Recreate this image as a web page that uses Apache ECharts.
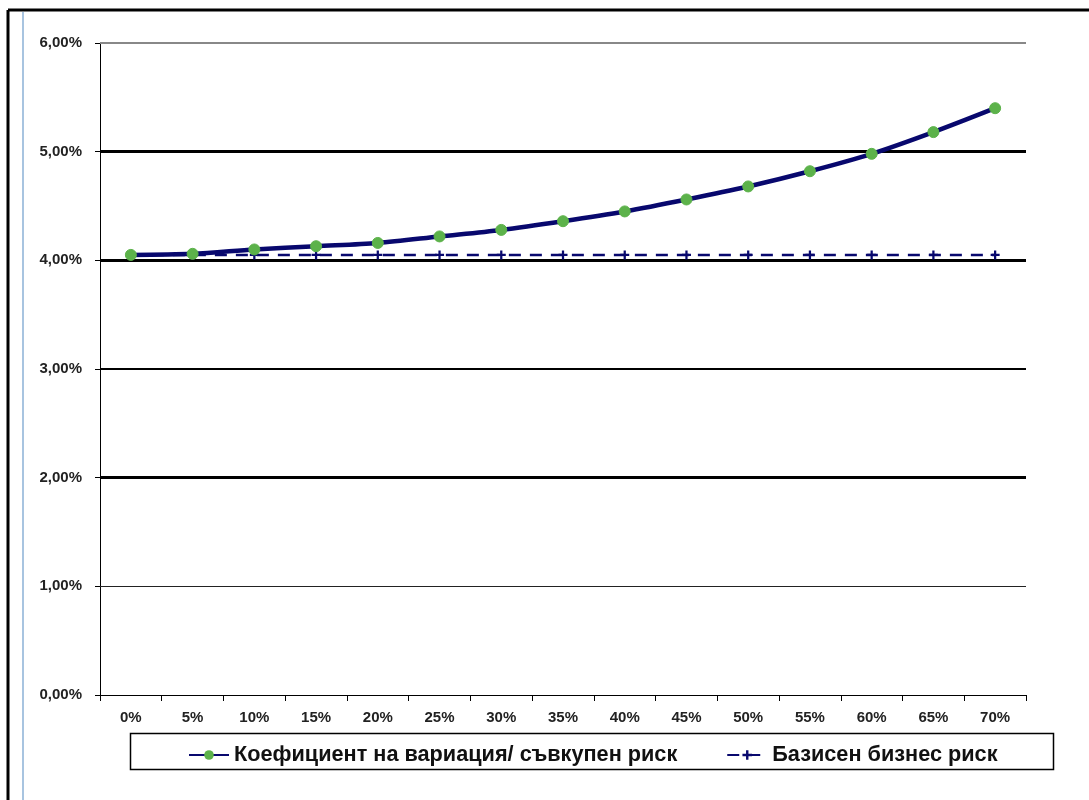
<!DOCTYPE html>
<html><head><meta charset="utf-8">
<script src="https://cdn.jsdelivr.net/npm/echarts@6/dist/echarts.min.js"></script>
<style>html,body{margin:0;padding:0;background:#fff}#c{width:1089px;height:800px}</style>
</head><body><div id="c"></div>
<script>
const categories = ['0%','5%','10%','15%','20%','25%','30%','35%','40%','45%','50%','55%','60%','65%','70%'];
const seriesNames = ['Коефициент на вариация/ съвкупен риск', 'Базисен бизнес риск'];
const totalRisk = [4.05, 4.06, 4.10, 4.13, 4.16, 4.22, 4.28, 4.36, 4.45, 4.56, 4.68, 4.82, 4.98, 5.18, 5.40];
const baseRisk = [4.05, 4.05, 4.05, 4.05, 4.05, 4.05, 4.05, 4.05, 4.05, 4.05, 4.05, 4.05, 4.05, 4.05, 4.05];
const gridValues = [1, 2, 3, 4, 5, 6];
const gridWidths = [1, 3, 1.8, 3, 3, 2];
const gridColors = ['#222', '#000', '#000', '#000', '#000', '#888'];

const chart = echarts.init(document.getElementById('c'), null, {renderer: 'canvas'});
const fmt = v => v.toFixed(2).replace('.', ',') + '%';
chart.setOption({
  animation: false,
  backgroundColor: '#fff',
  textStyle: {fontFamily: 'Liberation Sans, Arial, sans-serif'},
  grid: {left: 100, right: 63, top: 43, bottom: 105},
  graphic: [
    {type: 'line', shape: {x1: 8, y1: 10, x2: 1089, y2: 10}, style: {stroke: '#000', lineWidth: 3}},
    {type: 'line', shape: {x1: 8, y1: 10, x2: 8, y2: 800}, style: {stroke: '#000', lineWidth: 3}},
    {type: 'line', shape: {x1: 23, y1: 12, x2: 23, y2: 800}, style: {stroke: '#a8c4e0', lineWidth: 2}},
    {type: 'rect', shape: {x: 130.5, y: 733.5, width: 923, height: 36}, style: {fill: 'none', stroke: '#000', lineWidth: 1.5}, z: 1}
  ],
  legend: {
    left: 183, top: 739, itemGap: 49, itemWidth: 40, itemHeight: 12,
    textStyle: {fontSize: 21.7, fontWeight: 'bold', color: '#111', fontFamily: 'Liberation Sans, Arial, sans-serif'},
    data: seriesNames
  },
  xAxis: {
    type: 'category', data: categories, boundaryGap: true,
    axisLine: {lineStyle: {color: '#000', width: 1}},
    axisTick: {show: true, length: 6, lineStyle: {color: '#000'}},
    axisLabel: {fontSize: 15, fontWeight: 'bold', color: '#222', margin: 15}
  },
  yAxis: {
    type: 'value', min: 0, max: 6, interval: 1,
    axisLine: {show: true, lineStyle: {color: '#000', width: 1}},
    axisTick: {show: true, length: 5, lineStyle: {color: '#000'}},
    splitLine: {show: false},
    axisLabel: {fontSize: 15, fontWeight: 'bold', color: '#222', margin: 18, formatter: fmt}
  },
  series: [
    {
      name: seriesNames[0], type: 'line', data: totalRisk, smooth: 0.3, z: 5,
      symbol: 'circle', symbolSize: 11,
      lineStyle: {color: '#08086e', width: 4.5},
      itemStyle: {color: '#5cb24a', borderColor: '#5cb24a'},
      markLine: {
        silent: true, symbol: 'none', label: {show: false}, z: 1,
        data: gridValues.map((v, i) => ({yAxis: v, lineStyle: {color: gridColors[i], width: gridWidths[i], type: 'solid'}}))
      }
    },
    {
      name: seriesNames[1], type: 'line', data: baseRisk, z: 4,
      symbol: 'path://M-1,-4 L1,-4 L1,-1 L4,-1 L4,1 L1,1 L1,4 L-1,4 L-1,1 L-4,1 L-4,-1 L-1,-1 Z', symbolSize: 9,
      lineStyle: {color: '#08086e', width: 2.5, type: [12, 9]},
      itemStyle: {color: '#08086e'}
    }
  ]
});
</script></body></html>
